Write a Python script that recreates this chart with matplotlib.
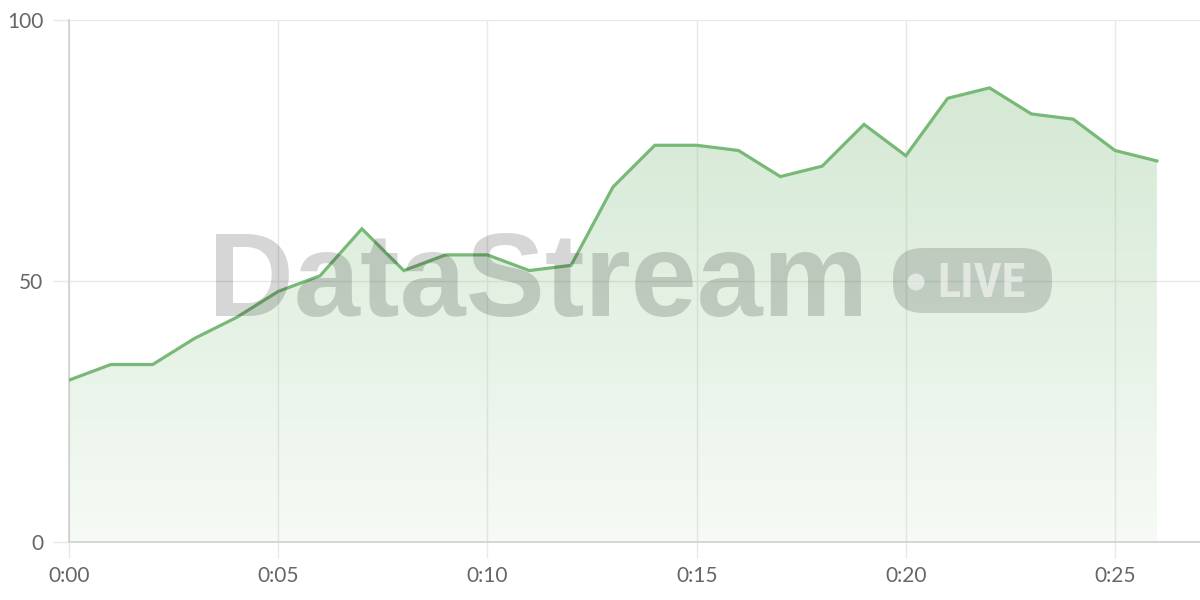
import numpy as np
import matplotlib.pyplot as plt
from matplotlib.patches import FancyBboxPatch, Circle
from matplotlib.colors import LinearSegmentedColormap

plt.rcParams['font.family'] = ['Lato', 'DejaVu Sans']

minutes = list(range(27))
values = [31, 34, 34, 39, 43, 48, 51, 60, 52, 55, 55, 52, 53, 68, 76, 76, 75,
          70, 72, 80, 74, 85, 87, 82, 81, 75, 73]
x_ticks = [0, 5, 10, 15, 20, 25]
x_labels = ['0:00', '0:05', '0:10', '0:15', '0:20', '0:25']
y_ticks = [0, 50, 100]

green = '#79b977'

fig = plt.figure(figsize=(12, 6), dpi=100)
ax = fig.add_axes([69 / 1200, 58 / 600, 1131 / 1200, 522 / 600])

# gradient fill under the line
cmap = LinearSegmentedColormap.from_list(
    'g', [(0.478, 0.729, 0.471, 0.07), (0.478, 0.729, 0.471, 0.36)])
grad = np.linspace(0, 1, 256).reshape(-1, 1)
img = ax.imshow(grad, cmap=cmap, origin='lower', aspect='auto',
                extent=[0, minutes[-1], 0, 100], zorder=2)
poly = ax.fill_between(minutes, values, 0, color='none', lw=0)
img.set_clip_path(poly.get_paths()[0], transform=ax.transData)
ax.set_xlim(0, 27.03)
ax.set_ylim(0, 100)

ax.plot(minutes, values, color=green, lw=2.3, zorder=5, solid_joinstyle='miter')

ax.set_xticks(x_ticks, x_labels)
ax.set_yticks(y_ticks)
ax.grid(True, color='#e9e9e9', lw=1, zorder=0)
ax.set_axisbelow(True)
ax.tick_params(axis='both', length=11.5, color='#e9e9e9', width=1,
               labelsize=15, labelcolor='#666666')
ax.tick_params(axis='x', pad=6)
ax.tick_params(axis='y', pad=7)
for s in ['top', 'right']:
    ax.spines[s].set_visible(False)
for s in ['left', 'bottom']:
    ax.spines[s].set_color('#d2d2d2')
    ax.spines[s].set_linewidth(1.3)

# watermark (pixel coordinates, origin bottom-left)
fig.text(208 / 1200, 1 - 316 / 600, 'DataStream', family=['Liberation Sans'],
         fontweight='bold', fontsize=85.5, color='black', alpha=0.16,
         ha='left', va='baseline', zorder=4)
pill = FancyBboxPatch((893, 600 - 313), 159, 65,
                      boxstyle='round,pad=0,rounding_size=30',
                      transform=None, facecolor='black',
                      alpha=0.15, lw=0, zorder=4)
fig.patches.append(pill)
fig.patches.append(Circle((916, 600 - 282), 8.5, transform=None,
                          facecolor='white', alpha=0.55, lw=0, zorder=5))
fig.text(937 / 1200, 1 - 297 / 600, 'LIVE',
         family=['Roboto Condensed', 'Liberation Sans Narrow', 'Liberation Sans'],
         fontweight='bold', fontsize=35, color='white', alpha=0.55,
         ha='left', va='baseline', zorder=5)

fig.savefig('out.png', dpi=100)
